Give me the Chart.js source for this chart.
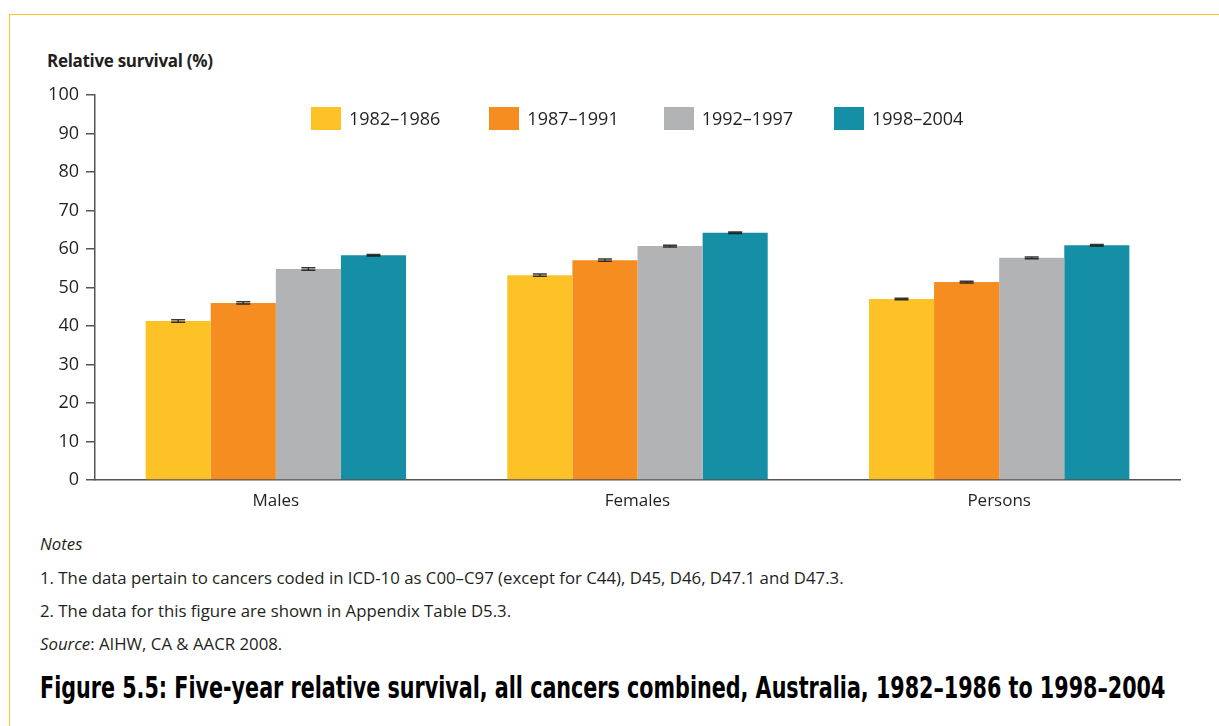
<!DOCTYPE html>
<html>
<head>
<meta charset="utf-8">
<script src="https://cdn.jsdelivr.net/npm/chart.js@4.4.1/dist/chart.umd.min.js"></script>
<style>
  html, body { margin: 0; padding: 0; background: #fff; }
  body { width: 1219px; height: 726px; position: relative; overflow: hidden; font-family: "Open Sans", "Noto Sans", sans-serif; color: #231f20; }
  .frame { position: absolute; left: 9px; top: 14px; right: -2px; bottom: -2px; border-top: 1.5px solid #fcc425; border-left: 1.5px solid #fcc425; }
  #wrap { position: absolute; left: 0; top: 0; width: 1219px; height: 520px; }
  .ytitle { position: absolute; left: 47px; top: 49px; font-size: 17px; font-weight: bold; letter-spacing: -0.3px; }
  .legend { position: absolute; top: 106px; left: 311px; display: flex; font-size: 18px; }
  .legend .item { display: flex; align-items: center; }
  .legend .box { width: 30px; height: 23px; margin-right: 8px; }
  .notes { position: absolute; left: 40px; font-size: 16.8px; white-space: nowrap; }
  .title { position: absolute; left: 40px; top: 670px; font-family: "DejaVu Sans Condensed", "DejaVu Sans", sans-serif; font-weight: bold; font-size: 30px; color: #000; white-space: nowrap; transform-origin: 0 0; }
</style>
</head>
<body>
<div class="frame"></div>
<div class="ytitle">Relative survival (%)</div>
<div id="wrap"><canvas id="chart"></canvas></div>
<div class="legend" id="legend"></div>
<div class="notes" style="top:532px;font-style:italic">Notes</div>
<div class="notes" style="top:566px">1. The data pertain to cancers coded in ICD-10 as C00–C97 (except for C44), D45, D46, D47.1 and D47.3.</div>
<div class="notes" style="top:599px">2. The data for this figure are shown in Appendix Table D5.3.</div>
<div class="notes" style="top:632px"><i>Source</i>: AIHW, CA &amp; AACR 2008.</div>
<div class="title" id="figtitle">Figure 5.5: Five-year relative survival, all cancers combined, Australia, 1982–1986 to 1998–2004</div>
<script>
const categories = ['Males', 'Females', 'Persons'];
const periods = ['1982–1986', '1987–1991', '1992–1997', '1998–2004'];
const colours = ['#fdc326', '#f68d21', '#b1b3b5', '#148fa6'];

// five-year relative survival (%)
const survival1982 = [41.3, 53.2, 47.0];
const survival1987 = [46.0, 57.1, 51.4];
const survival1992 = [54.8, 60.8, 57.7];
const survival1998 = [58.4, 64.2, 61.0];

// 95% confidence intervals
const lower1982 = [41.0, 52.9, 46.8];
const upper1982 = [41.6, 53.5, 47.2];
const lower1987 = [45.7, 56.8, 51.2];
const upper1987 = [46.3, 57.4, 51.6];
const lower1992 = [54.5, 60.5, 57.5];
const upper1992 = [55.1, 61.0, 57.9];
const lower1998 = [58.2, 64.0, 60.8];
const upper1998 = [58.6, 64.4, 61.2];

const yTicks = [0, 10, 20, 30, 40, 50, 60, 70, 80, 90, 100];

const seriesValues = [survival1982, survival1987, survival1992, survival1998];
const lowerValues = [lower1982, lower1987, lower1992, lower1998];
const upperValues = [upper1982, upper1987, upper1992, upper1998];

// figure title is set in a condensed face; squeeze to the original width
const titleEl = document.getElementById('figtitle');
titleEl.style.transform = 'scaleX(' + (1125 / titleEl.offsetWidth) + ')';

// legend (html, sits inside plot area like the original)
const legendEl = document.getElementById('legend');
const legendGaps = [0, 49, 45, 41];
periods.forEach((p, i) => {
    const item = document.createElement('div');
    item.className = 'item';
    item.style.marginLeft = legendGaps[i] + 'px';
    item.innerHTML = '<span class="box" style="background:' + colours[i] + '"></span>' + p;
    legendEl.appendChild(item);
});

// whiskers for confidence intervals
const errorBars = {
    id: 'errorBars',
    afterDatasetsDraw(chart) {
        const ctx = chart.ctx;
        const y = chart.scales.y;
        ctx.save();
        ctx.strokeStyle = 'rgba(20,20,20,0.85)';
        ctx.lineWidth = 1.5;
        chart.data.datasets.forEach((ds, di) => {
            const meta = chart.getDatasetMeta(di);
            meta.data.forEach((bar, i) => {
                const yl = y.getPixelForValue(lowerValues[di][i]);
                const yu = y.getPixelForValue(upperValues[di][i]);
                const x = bar.x;
                ctx.beginPath();
                ctx.moveTo(x, yl); ctx.lineTo(x, yu);
                ctx.moveTo(x - 7, yl); ctx.lineTo(x + 7, yl);
                ctx.moveTo(x - 7, yu); ctx.lineTo(x + 7, yu);
                ctx.stroke();
            });
        });
        ctx.restore();
    }
};

const fontFamily = '"Open Sans", "Noto Sans", sans-serif';

new Chart(document.getElementById('chart'), {
    type: 'bar',
    data: {
        labels: categories,
        datasets: periods.map((p, i) => ({
            label: p,
            data: seriesValues[i],
            backgroundColor: colours[i],
            borderWidth: 0,
            categoryPercentage: 0.72,
            barPercentage: 1.0
        }))
    },
    options: {
        responsive: true,
        maintainAspectRatio: false,
        animation: false,
        layout: { padding: { top: 95, right: 39, left: 0, bottom: 0 } },
        plugins: {
            legend: { display: false },
            tooltip: { enabled: false }
        },
        scales: {
            x: {
                grid: { display: true, drawOnChartArea: false, drawTicks: false },
                border: { display: true, color: '#555', width: 1.5 },
                ticks: { color: '#231f20', font: { family: fontFamily, size: 17 }, padding: 11 },
                afterFit(scale) { scale.height = 40; }
            },
            y: {
                min: 0,
                max: 100,
                afterBuildTicks(scale) { scale.ticks = yTicks.map(v => ({ value: v })); },
                grid: { display: true, drawOnChartArea: false, drawTicks: true, tickLength: 9, color: '#555', lineWidth: 1.5 },
                border: { display: true, color: '#555', width: 1.5 },
                ticks: { color: '#231f20', font: { family: fontFamily, size: 18 }, padding: 7 },
                afterFit(scale) { scale.width = 95; }
            }
        }
    },
    plugins: [errorBars]
});
</script>
</body>
</html>
